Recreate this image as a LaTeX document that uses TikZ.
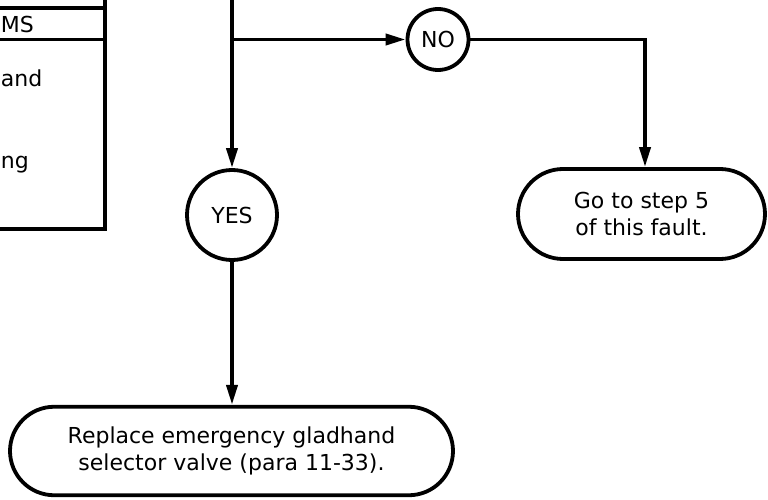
\documentclass[tikz,border=0pt]{standalone}
\usepackage{fontspec}
\setmainfont{DejaVu Sans}
\usetikzlibrary{arrows.meta,shapes.misc}
\begin{document}
\begin{tikzpicture}[x=1pt,y=-1pt,
  line width=3.8pt,
  txt/.style={font=\fontsize{22}{27}\selectfont},
  decision/.style={circle,draw,txt,inner sep=0pt},
  terminal/.style={rounded rectangle,draw,txt,align=center,inner sep=0pt},
  flow/.style={-{Triangle[length=20pt,width=11pt]}},
  edgetext/.style={txt,anchor=base west,inner sep=0pt}]
\useasboundingbox (0,0) rectangle (768,500);
\clip (0,0) rectangle (768,500);

% step box on the left (only its right part is in view)
\draw (0,8) -- (105,8)
      (0,39.5) -- (105,39.5)
      (105,-5) -- (105,229) -- (-5,229);
\node[edgetext] (lms)  at (-1,33)  {MS};
\node[edgetext] (land) at (-1,87)  {and};
\node[edgetext] (lng)  at (-1,168) {ng};

% decisions and outcomes
\node[decision,minimum size=90pt] (yes) at (232,215) {YES};
\node[decision,minimum size=61pt] (no)  at (438,39.5) {NO};
\node[terminal,minimum width=443pt,minimum height=88.5pt] (repl) at (231.5,451)
  {Replace emergency gladhand\\selector valve (para 11-33).};
\node[terminal,minimum width=247pt,minimum height=90pt] (goto) at (641.5,214)
  {Go to step 5\\of this fault.};

% routing points
\coordinate (top)   at (232,-5);
\coordinate (split) at (232,39.5);
\coordinate (turn)  at (645,39.5);

% connectors
\draw[flow] (top) -- (yes.north);
\draw[flow] (split) -- (no.west);
\draw[flow] (no.east) -- (turn) -- (turn |- goto.north);
\draw[flow] (yes.south) -- (yes.south |- repl.north);
\end{tikzpicture}
\end{document}
